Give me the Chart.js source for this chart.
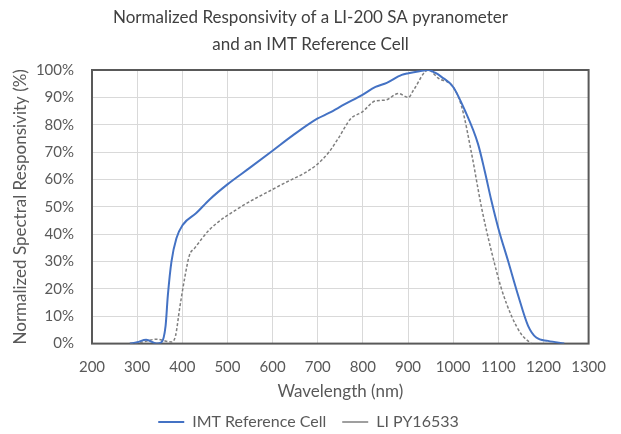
<!DOCTYPE html>
<html>
<head>
<meta charset="utf-8">
<script src="https://cdn.jsdelivr.net/npm/chart.js@4/dist/chart.umd.min.js"></script>
<style>
html,body{margin:0;padding:0;background:#fff;}
#wrap{width:621px;height:434px;position:relative;}
</style>
</head>
<body>
<div id="wrap"><canvas id="c" width="621" height="434"></canvas></div>
<script>
const titleLines = ['Normalized Responsivity of a LI-200 SA pyranometer','and an IMT Reference Cell'];
const xTicks = [200,300,400,500,600,700,800,900,1000,1100,1200,1300];
const yTicks = [0,10,20,30,40,50,60,70,80,90,100];

const imtWavelength = [284,300,320,343,354,363,368,376,387,401,431,460,500,550,600,644,699,725,760,798,828,853,886,901,925,945,960,974,1000,1026,1055,1070,1085,1100,1122,1144,1166,1184,1210,1246];
const imtValues     = [0,0.5,1.4,0,0.5,6.5,17.6,30,38.5,43.4,47.7,52.6,58.2,64.3,70.5,76,82.2,84.3,87.5,90.8,93.8,95.3,98.2,98.8,99.5,100,99,97.5,93.8,85.2,73,63,52,42.2,30,17.6,6.5,2.2,1,0];

const liWavelength = [284,310,343,376,385,394,405,416,427,460,526,614,695,725,747,773,798,828,850,879,901,912,945,967,1000,1019,1041,1063,1085,1107,1129,1151,1173];
const liValues     = [0,0.5,1.6,0.6,2.8,12.7,23.7,32.4,34.8,41.6,49.6,57.6,65,70,75.4,82.2,84.6,88.7,89,91.4,90,92.6,100,97,93.8,86.5,69.3,49.6,33.6,20,10.2,3.4,0];

const FONT = 'Lato, "Open Sans", sans-serif';
const TXT = '#595959';

const frame = {
  id:'frame',
  beforeDatasetsDraw(chart){
    const a = chart.chartArea, ctx = chart.ctx;
    ctx.save();
    ctx.strokeStyle = '#595959';
    ctx.lineWidth = 2;
    ctx.strokeRect(a.left, a.top, a.right-a.left, a.bottom-a.top);
    ctx.restore();
  },
  afterDraw(chart){
    const ctx = chart.ctx;
    ctx.save();
    ctx.fillStyle = '#404040';
    ctx.font = '17px ' + FONT;
    ctx.textAlign = 'center';
    ctx.textBaseline = 'middle';
    ctx.fillText(titleLines[0], 310.5, 18);
    ctx.fillText(titleLines[1], 310.5, 45);
    ctx.restore();
  }
};

new Chart(document.getElementById('c'), {
  type:'line',
  data:{
    datasets:[
      {label:'IMT Reference Cell', data: imtWavelength.map((x,i)=>({x, y: imtValues[i]})),
       borderColor:'#4472C4', backgroundColor:'#4472C4', borderWidth:2, pointRadius:0, tension:0.4, cubicInterpolationMode:'monotone', fill:false},
      {label:'LI PY16533', data: liWavelength.map((x,i)=>({x, y: liValues[i]})),
       borderColor:'#7F7F7F', backgroundColor:'#7F7F7F', borderWidth:1.5, borderDash:[3,2], pointRadius:0, tension:0.4, cubicInterpolationMode:'monotone', fill:false}
    ]
  },
  options:{
    responsive:false,
    animation:false,
    devicePixelRatio:1,
    layout:{padding:{left:26,right:30,top:70,bottom:-6}},
    plugins:{
      legend:{position:'bottom', labels:{usePointStyle:true, pointStyle:'line', pointStyleWidth:26, color:TXT, font:{family:FONT, size:16}, padding:16, boxHeight:2}},
      tooltip:{enabled:false}
    },
    scales:{
      x:{type:'linear', min:200, max:1300,
        afterBuildTicks(s){ s.ticks = xTicks.map(v=>({value:v})); },
        grid:{color:'#D9D9D9', lineWidth:1, drawTicks:false},
        border:{display:false},
        ticks:{color:TXT, font:{family:FONT, size:15}, padding:15, maxRotation:0, callback:v=>String(v)},
        title:{display:true, text:'Wavelength (nm)', color:TXT, font:{family:FONT, size:17}, padding:{top:-10,bottom:-4}}
      },
      y:{type:'linear', min:0, max:100,
        afterBuildTicks(s){ s.ticks = yTicks.map(v=>({value:v})); },
        afterFit(s){ s.width = 66; },
        grid:{color:'#D9D9D9', lineWidth:1, drawTicks:false},
        border:{display:false},
        ticks:{color:TXT, font:{family:FONT, size:15}, padding:18, callback:v=>v+'%'},
        title:{display:true, text:'Normalized Spectral Responsivity (%)', color:TXT, font:{family:FONT, size:17}, padding:{top:-16,bottom:0}}
      }
    }
  },
  plugins:[frame]
});
</script>
</body>
</html>
